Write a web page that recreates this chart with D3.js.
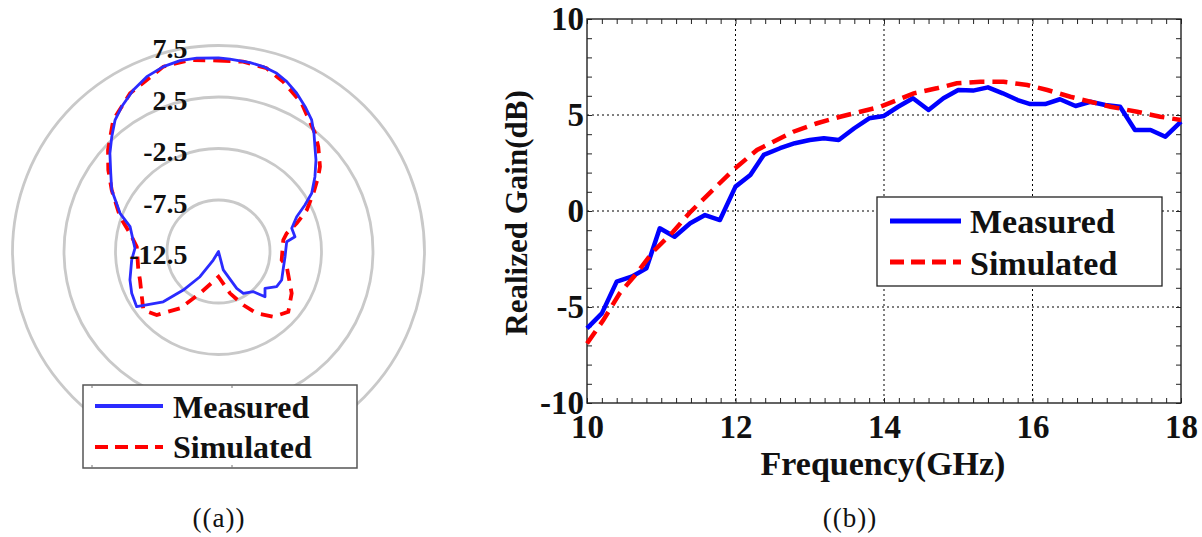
<!DOCTYPE html>
<html>
<head>
<meta charset="utf-8">
<script src="https://cdn.jsdelivr.net/npm/d3@7"></script>
<style>
  html, body { margin: 0; padding: 0; background: #fff; }
  svg { display: block; }
  text { font-family: "Liberation Serif", "Times New Roman", serif; }
</style>
</head>
<body>
<svg id="chart" width="1202" height="537"></svg>
<script>
// ---------------- data ----------------
// (a) radiation pattern: angle (deg, clockwise from top) and gain (dB)
const polarRingLabels = [7.5, 2.5, -2.5, -7.5, -12.5];
const polarRings = [-7.5, -2.5, 2.5, 7.5];
const measAngle = [0,3.4,9.5,13.6,18.1,21.9,26.3,30.9,35.3,38.9,42.6,46.8,52.2,58.0,61.7,66.0,72.4,79.1,81.8,94.5,104.5,114.3,121.2,128.4,134.2,139.1,149.3,153.7,165.5,180,211.5,216.3,222.4,227.7,236.0,244.3,252.2,264.4,272.2,285.7,291.2,299.9,306.0,312.1,317.1,321.8,326.2,332.2,337.7,343.4,348.6,353.6];
const measPattern = [6.3,6.2,6.1,5.97,5.7,5.27,4.64,3.88,3.15,2.26,1.33,0.48,-0.65,-1.83,-2.97,-4.19,-5.04,-4.94,-5.81,-6.02,-6.0,-5.77,-5.9,-6.74,-6.2,-7.34,-7.78,-8.51,-10.65,-12.5,-11.53,-9.46,-7.43,-5.25,-2.92,-3.15,-3.47,-4.03,-4.38,-3.58,-2.25,-0.54,0.43,1.71,2.72,3.74,4.41,5.23,5.85,6.23,6.4,6.4];
const simAngle = [0,7.4,14.7,20.9,29.3,39.2,43.6,50.1,53.1,58.5,64.8,70.2,75.1,79.9,97.7,102.6,119.7,130.8,140.0,148.3,155.1,164.6,180,203.9,214.1,224.2,232.1,250.0,257.0,273.4,281.6,289.5,299.9,306.5,312.6,321.3,330.8,343.4,351.5];
const simPattern = [6.04,6.08,5.89,5.14,4.0,2.32,1.55,0.34,-0.39,-1.7,-3.03,-4.43,-5.65,-6.11,-6.31,-5.71,-4.32,-3.55,-4.23,-5.44,-6.77,-8.29,-10.05,-8.06,-5.84,-3.9,-3.25,-4.39,-4.51,-4.55,-3.73,-2.35,-0.54,0.81,2.07,3.85,5.1,6.23,6.3];

// (b) realized gain vs frequency
const xTickLabels = [10, 12, 14, 16, 18];
const yTickLabels = [10, 5, 0, -5, -10];
const measFreq = [10,10.2,10.4,10.6,10.8,10.98,11.18,11.39,11.59,11.79,12.0,12.2,12.38,12.6,12.8,13.0,13.19,13.39,13.6,13.8,14.0,14.19,14.39,14.6,14.8,15.0,15.2,15.4,15.6,15.8,15.97,16.17,16.37,16.58,16.78,16.98,17.18,17.38,17.59,17.79,18.0];
const measGain = [-6.11,-5.33,-3.68,-3.42,-2.99,-0.9,-1.34,-0.64,-0.21,-0.47,1.27,1.88,2.92,3.27,3.53,3.7,3.79,3.7,4.31,4.83,4.95,5.43,5.87,5.26,5.87,6.3,6.27,6.44,6.13,5.78,5.57,5.57,5.82,5.47,5.69,5.52,5.43,4.22,4.22,3.87,4.65];
const simFreq = [10,10.22,10.44,10.67,10.89,11.16,11.38,11.6,11.97,12.29,12.51,12.78,13.1,13.41,13.68,13.95,14.18,14.4,14.71,14.98,15.3,15.61,15.93,16.2,16.51,16.78,17.05,17.41,17.72,18.0];
const simGain = [-6.9,-5.68,-4.29,-3.24,-2.12,-1.08,-0.1,0.74,2.14,3.18,3.61,4.13,4.57,4.91,5.17,5.43,5.78,6.13,6.39,6.65,6.73,6.73,6.56,6.3,5.95,5.69,5.43,5.17,4.91,4.74];

const seriesNames = ["Measured", "Simulated"];
const captions = ["((a))", "((b))"];

// ---------------- drawing ----------------
const svg = d3.select("#chart");
const BLUE_POLAR = "#2b2bff", BLUE = "#0000ff", RED = "#ff0000";

// ===== (a) polar =====
const cx = 218.5, cy = 251.5;
const r = d3.scaleLinear().domain([-12.5, 7.5]).range([0, 206]).clamp(true);
const gp = svg.append("g").attr("transform", `translate(${cx},${cy})`);

gp.selectAll("circle.ring").data(polarRings).join("circle")
  .attr("class", "ring").attr("r", d => r(d))
  .attr("fill", "none").attr("stroke", "#c9c9c9").attr("stroke-width", 2.8);

const toRad = d => d * Math.PI / 180;
const simPts = simAngle.map((a, i) => [toRad(a), r(simPattern[i])]);
const measPts = measAngle.map((a, i) => [toRad(a), r(measPattern[i])]);
const radial = d3.lineRadial().angle(d => d[0]).radius(d => d[1]).curve(d3.curveLinearClosed);

gp.append("path").attr("d", radial(simPts))
  .attr("fill", "none").attr("stroke", RED).attr("stroke-width", 3.8)
  .attr("stroke-dasharray", "12,8");
gp.append("path").attr("d", radial(measPts))
  .attr("fill", "none").attr("stroke", BLUE_POLAR).attr("stroke-width", 2.8)
  .attr("stroke-linejoin", "round");

gp.selectAll("text.rl").data(polarRingLabels).join("text")
  .attr("class", "rl")
  .attr("x", -31).attr("y", d => -r(d) + 3)
  .attr("text-anchor", "end").attr("dominant-baseline", "central")
  .attr("font-size", 28).attr("font-weight", "bold").attr("fill", "#111")
  .text(d => d);

// left legend
const lg = svg.append("g");
lg.append("rect").attr("x", 83).attr("y", 385).attr("width", 274).attr("height", 83)
  .attr("fill", "#fff").attr("stroke", "#555").attr("stroke-width", 1.5);
[92, 232].forEach(tx => {
  lg.append("line").attr("x1", tx).attr("x2", tx).attr("y1", 385).attr("y2", 388).attr("stroke", "#777");
  lg.append("line").attr("x1", tx).attr("x2", tx).attr("y1", 465).attr("y2", 468).attr("stroke", "#777");
});
lg.append("line").attr("x1", 95).attr("x2", 163).attr("y1", 406).attr("y2", 406)
  .attr("stroke", BLUE_POLAR).attr("stroke-width", 4);
lg.append("line").attr("x1", 95).attr("x2", 163).attr("y1", 447).attr("y2", 447)
  .attr("stroke", RED).attr("stroke-width", 4).attr("stroke-dasharray", "13,7");
lg.selectAll("text").data(seriesNames).join("text")
  .attr("x", 173).attr("y", (d, i) => 418 + i * 40)
  .attr("font-size", 32).attr("font-weight", "bold").attr("fill", "#111")
  .text(d => d);

// ===== (b) cartesian =====
const x = d3.scaleLinear().domain([10, 18]).range([587, 1181]);
const y = d3.scaleLinear().domain([-10, 10]).range([403, 19]);

const grid = svg.append("g");
grid.selectAll("line.gx").data(xTickLabels.slice(1, -1)).join("line")
  .attr("x1", d => x(d)).attr("x2", d => x(d)).attr("y1", y(10)).attr("y2", y(-10))
  .attr("stroke", "#000").attr("stroke-width", 1).attr("stroke-dasharray", "2,3");
grid.selectAll("line.gy").data(yTickLabels.slice(1, -1)).join("line")
  .attr("x1", x(10)).attr("x2", x(18)).attr("y1", d => y(d)).attr("y2", d => y(d))
  .attr("stroke", "#000").attr("stroke-width", 1).attr("stroke-dasharray", "2,3");

const minorX = d3.range(10, 18.001, 0.2);
const minorY = d3.range(-10, 10.001, 1);
function styleMinor(g) { g.select(".domain").remove(); g.selectAll("line").attr("stroke", "#222"); }
svg.append("g").attr("transform", `translate(0,${y(-10)})`)
  .call(d3.axisBottom(x).tickValues(minorX).tickSize(-5).tickFormat("")).call(styleMinor);
svg.append("g").attr("transform", `translate(0,${y(10)})`)
  .call(d3.axisTop(x).tickValues(minorX).tickSize(-5).tickFormat("")).call(styleMinor);
svg.append("g").attr("transform", `translate(${x(10)},0)`)
  .call(d3.axisLeft(y).tickValues(minorY).tickSize(-5).tickFormat("")).call(styleMinor);
svg.append("g").attr("transform", `translate(${x(18)},0)`)
  .call(d3.axisRight(y).tickValues(minorY).tickSize(-5).tickFormat("")).call(styleMinor);

// tick labels
function styleLabels(g) {
  g.select(".domain").remove();
  g.selectAll("text").attr("font-size", 33).attr("font-weight", "bold").attr("fill", "#111")
    .attr("font-family", "Liberation Serif, Times New Roman, serif");
}
svg.append("g").attr("transform", `translate(0,${y(-10)})`)
  .call(d3.axisBottom(x).tickValues(xTickLabels).tickSize(0).tickPadding(12).tickFormat(d3.format("d")))
  .call(styleLabels);
svg.append("g").attr("transform", `translate(${x(10)},0)`)
  .call(d3.axisLeft(y).tickValues(yTickLabels).tickSize(0).tickPadding(3).tickFormat(d => String(d)))
  .call(styleLabels);

// frame
svg.append("rect").attr("x", x(10)).attr("y", y(10)).attr("width", x(18) - x(10)).attr("height", y(-10) - y(10))
  .attr("fill", "none").attr("stroke", "#222").attr("stroke-width", 1.4);

// lines
const line = d3.line().x(d => x(d[0])).y(d => y(d[1]));
svg.append("path").attr("d", line(measFreq.map((f, i) => [f, measGain[i]])))
  .attr("fill", "none").attr("stroke", BLUE).attr("stroke-width", 4.5).attr("stroke-linejoin", "round");
svg.append("path").attr("d", line(simFreq.map((f, i) => [f, simGain[i]])))
  .attr("fill", "none").attr("stroke", RED).attr("stroke-width", 4.5).attr("stroke-dasharray", "15,8");

// axis titles
svg.append("text").attr("x", 883).attr("y", 475).attr("text-anchor", "middle")
  .attr("font-size", 34).attr("font-weight", "bold").attr("fill", "#111").text("Frequency(GHz)");
svg.append("text").attr("transform", "translate(527,213) rotate(-90)").attr("text-anchor", "middle")
  .attr("font-size", 31).attr("font-weight", "bold").attr("fill", "#111").text("Realized Gain(dB)");

// right legend
const rg = svg.append("g");
rg.append("rect").attr("x", 877).attr("y", 197).attr("width", 285).attr("height", 89)
  .attr("fill", "#fff").attr("stroke", "#222").attr("stroke-width", 1.3);
rg.append("line").attr("x1", 890).attr("x2", 961).attr("y1", 221).attr("y2", 221)
  .attr("stroke", BLUE).attr("stroke-width", 5);
rg.append("line").attr("x1", 890).attr("x2", 961).attr("y1", 262).attr("y2", 262)
  .attr("stroke", RED).attr("stroke-width", 5).attr("stroke-dasharray", "14,7");
rg.selectAll("text").data(seriesNames).join("text")
  .attr("x", 970).attr("y", (d, i) => 233 + i * 42)
  .attr("font-size", 34).attr("font-weight", "bold").attr("fill", "#111")
  .text(d => d);

// captions
svg.selectAll("text.cap").data(captions).join("text").attr("class", "cap")
  .attr("x", (d, i) => i === 0 ? 219 : 850).attr("y", 527).attr("text-anchor", "middle")
  .attr("font-size", 27).attr("letter-spacing", 1).attr("fill", "#111").text(d => d);
</script>
</body>
</html>
